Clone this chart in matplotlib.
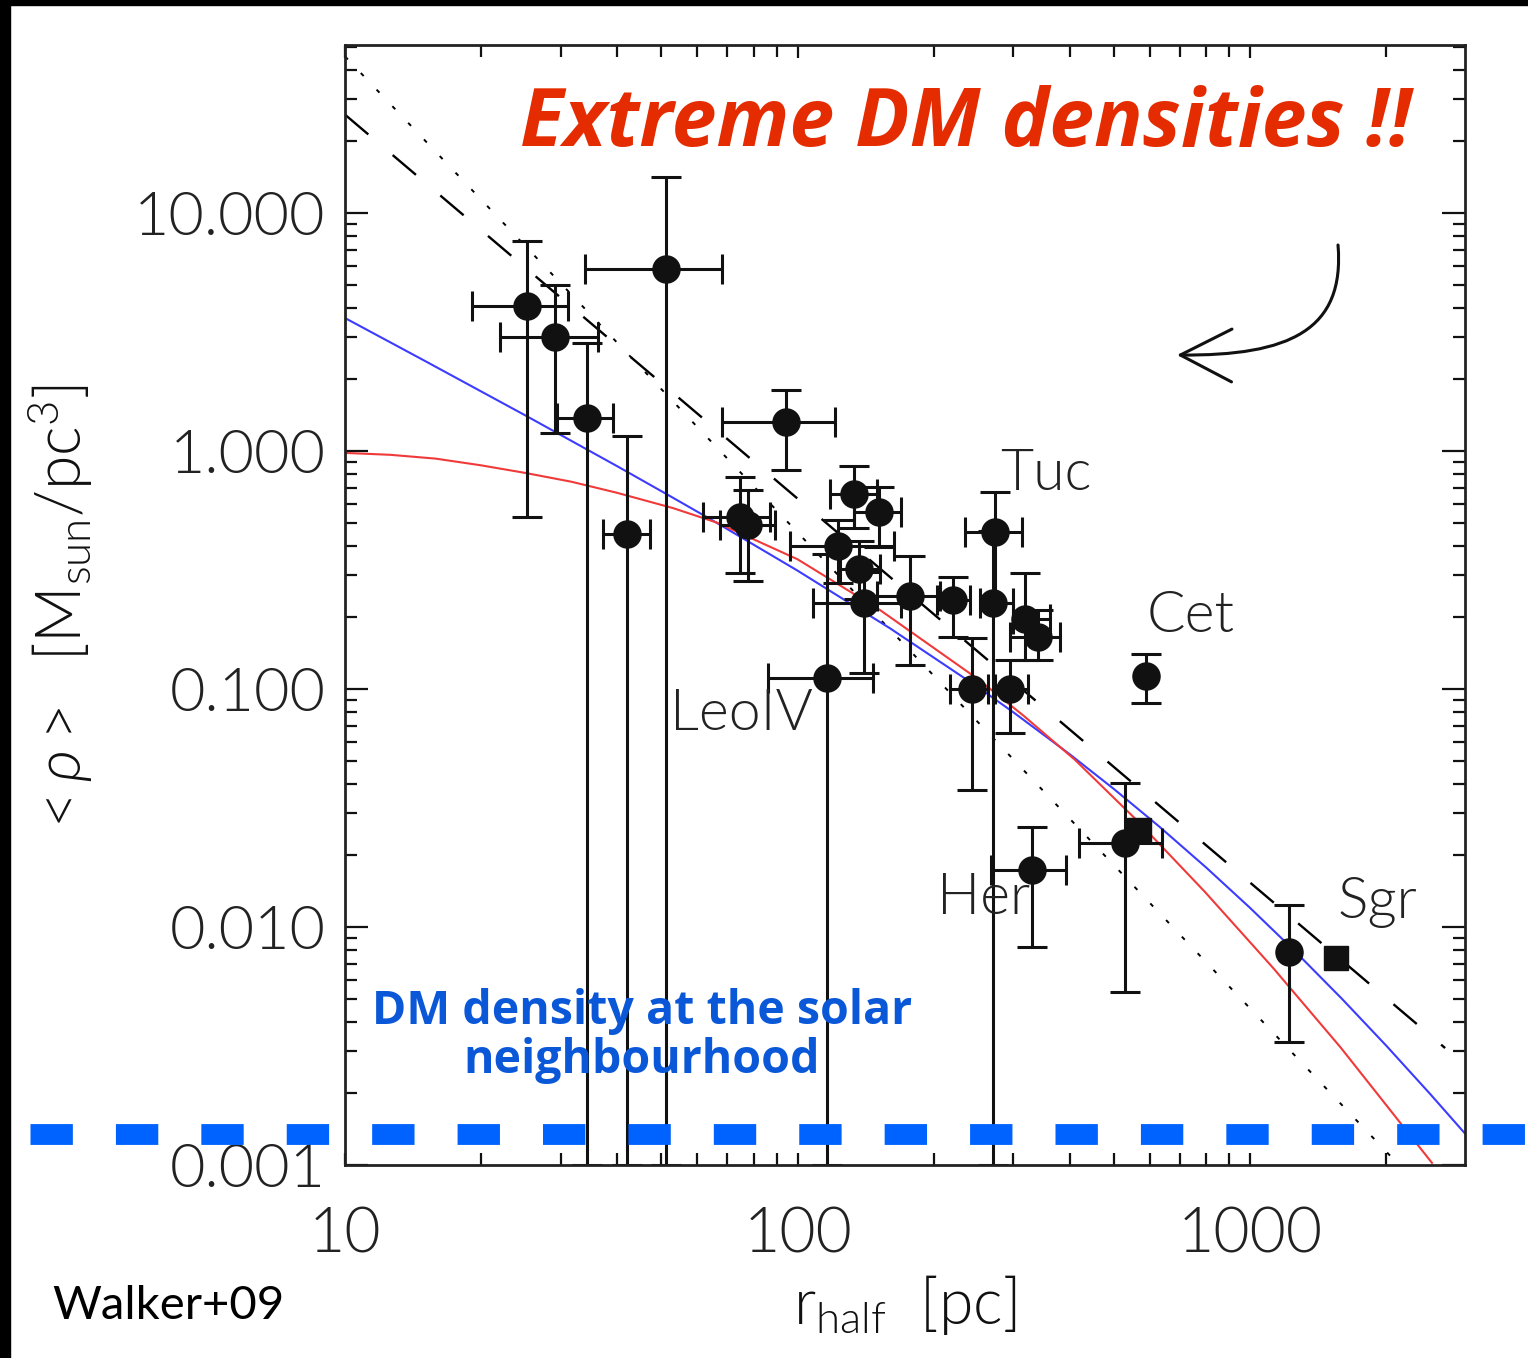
import numpy as np
import matplotlib
matplotlib.use("Agg")
import matplotlib.pyplot as plt
from matplotlib.patches import Rectangle, FancyArrowPatch
from matplotlib.path import Path
from matplotlib.lines import Line2D

W, H = 1528, 1358

# dwarf galaxies: half-light radius [pc] and mean density [Msun/pc^3], with error ranges
r_half = [25.2, 29.1, 34.3, 42.0, 51.2, 94.3, 74.6, 77.8, 133, 151, 123, 137, 140,
          116, 177, 221, 273, 270, 318, 340, 243, 295, 330, 529]
r_lo = [19.1, 22.0, 29.4, 37.2, 33.9, 68.1, 61.8, 67.4, 118, 133, 96.2, 124, 108,
        86.1, 150, 203, 234, 253, 299, 295, 217, 273, 268, 419]
r_hi = [31.1, 36.2, 39.1, 47.2, 68.1, 121, 86.9, 89.1, 150, 169, 163, 152, 169,
        147, 206, 240, 313, 299, 361, 380, 264, 323, 392, 640]
rho = [4.06, 3.01, 1.38, 0.448, 5.82, 1.32, 0.528, 0.489, 0.659, 0.554, 0.399, 0.319, 0.230,
       0.111, 0.246, 0.237, 0.457, 0.230, 0.197, 0.165, 0.100, 0.100, 0.0173, 0.0225]
rho_lo = [0.528, 1.19, 0.001, 0.001, 0.001, 0.832, 0.307, 0.284, 0.474, 0.395, 0.28, 0.24, 0.117,
          0.001, 0.126, 0.165, 0.23, 0.001, 0.132, 0.132, 0.0377, 0.0654, 0.00824, 0.00533]
rho_hi = [7.63, 4.98, 2.84, 1.16, 14.2, 1.80, 0.778, 0.686, 0.865, 0.706, 0.513, 0.42, 0.31,
          0.37, 0.362, 0.296, 0.673, 0.46, 0.307, 0.215, 0.164, 0.132, 0.0263, 0.0403]

# points with only vertical errors (Cet and the big one near Sgr)
r_single = [589, 1219]
rho_single = [0.1135, 0.00785]
rho_single_lo = [0.0873, 0.00329]
rho_single_hi = [0.140, 0.01236]

# square symbols
r_sq = [569, 1549]
rho_sq = [0.0256, 0.00741]

# model curves
blue_r = [10, 15, 25, 40, 51.5, 65, 100, 160, 250, 300, 400, 500, 630, 800, 1000, 1250,
          1600, 2000, 2500, 2985]
blue_rho = [3.62, 2.393, 1.413, 0.862, 0.657, 0.510, 0.3143, 0.1800, 0.1020, 0.07978, 0.05309,
            0.03802, 0.02642, 0.01777, 0.01203, 0.007988, 0.004967, 0.003171, 0.001988, 0.001356]
red_r = [10, 12.59, 15.85, 19.95, 25.0, 31.62, 39.81, 53.09, 66.37, 100, 152.1, 251.2, 316.2,
         410.2, 562.3, 794.3, 1122, 1585, 2523]
red_rho = [0.9817, 0.9638, 0.9290, 0.8710, 0.8091, 0.7430, 0.6683, 0.5754, 0.5000, 0.3508,
           0.2148, 0.1096, 0.0771, 0.0504, 0.02805, 0.01406, 0.006761, 0.003119, 0.001021]
dash_r = [10, 2698]
dash_rho = [25.9, 0.0031]
dot_r = [10, 2300]
dot_rho = [45.5, 0.00086]

gal_names = ["Tuc", "Cet", "LeoIV", "Her", "Sgr"]
gal_xy = [(1000, 475), (1147, 617), (670, 715), (937, 899), (1337, 902)]

plt.rcParams['mathtext.fontset'] = 'custom'
plt.rcParams['mathtext.rm'] = 'Lato:weight=300'
plt.rcParams['mathtext.it'] = 'Lato:italic:weight=300'
plt.rcParams['mathtext.fallback'] = 'stixsans'
plt.rcParams['lines.scale_dashes'] = False

LIGHT = 300


def fpos(px, py):
    return px / W, 1 - py / H


fig = plt.figure(figsize=(W / 100, H / 100), dpi=100)
fig.patch.set_facecolor('white')

# dark starry border strips
fig.patches.append(Rectangle((0, 0), 10 / W, 1, transform=fig.transFigure, color='black', zorder=0))
fig.patches.append(Rectangle((0, 1 - 5 / H), 1, 5 / H, transform=fig.transFigure, color='black', zorder=0))

ax = fig.add_axes([345 / W, 1 - 1165 / H, 1120 / W, 1120 / H])
ax.set_xscale('log')
ax.set_yscale('log')
ax.set_xlim(10, 2985)
ax.set_ylim(0.001, 50.8)

ax.plot(dot_r, dot_rho, color='black', lw=1.4, ls=(0, (3, 13.5)))
ax.plot(dash_r, dash_rho, color='black', lw=1.7, ls=(0, (22, 23)))
ax.plot(blue_r, blue_rho, color='#3c3cff', lw=1.5)
ax.plot(red_r, red_rho, color='#f03a3a', lw=1.5)

r_half = np.array(r_half)
rho = np.array(rho)
xerr = [r_half - np.array(r_lo), np.array(r_hi) - r_half]
yerr = [rho - np.array(rho_lo), np.array(rho_hi) - rho]
ax.errorbar(r_half, rho, xerr=xerr, yerr=yerr, fmt='o', color='#111111', ms=19.5,
            elinewidth=2.2, capsize=11, capthick=2.2)

rho_single = np.array(rho_single)
yerr_s = [rho_single - np.array(rho_single_lo), np.array(rho_single_hi) - rho_single]
ax.errorbar(r_single, rho_single, yerr=yerr_s, fmt='o', color='#111111', ms=19.5,
            elinewidth=2.2, capsize=11, capthick=2.2)
ax.plot(r_sq, rho_sq, 's', color='#111111', ms=17)

ax.set_yticks([0.001, 0.01, 0.1, 1, 10])
ax.set_yticklabels(['0.001', '0.010', '0.100', '1.000', '10.000'])
ax.set_xticks([10, 100, 1000])
ax.set_xticklabels(['10', '100', '1000'])
ax.tick_params(which='both', direction='in', top=True, right=True, color='#111111', width=1.6)
ax.tick_params(axis='y', which='major', length=16.5, pad=14)
ax.tick_params(axis='y', which='minor', length=8.6)
ax.tick_params(axis='x', which='major', length=9, pad=30)
ax.tick_params(axis='x', which='minor', length=8.6)
for lab in ax.get_yticklabels():
    lab.set_fontfamily('Lato')
    lab.set_fontweight(LIGHT)
    lab.set_fontsize(44)
    lab.set_color('#222222')
for lab in ax.get_xticklabels():
    lab.set_fontfamily('Lato')
    lab.set_fontweight(LIGHT)
    lab.set_fontsize(45)
    lab.set_color('#222222')
for sp in ax.spines.values():
    sp.set_linewidth(2.0)
    sp.set_color('#222222')

for name, (px, py) in zip(gal_names, gal_xy):
    fig.text(*fpos(px, py), name, ha='left', va='center', fontsize=41,
             family='Lato', weight=LIGHT, color='#222222')

fig.text(*fpos(966, 125), 'Extreme DM densities !!', ha='center', va='center',
         fontsize=58, family='Open Sans', weight='bold', style='italic', color='#e52b00')

fig.text(*fpos(642, 1036), 'DM density at the solar\nneighbourhood', ha='center', va='center',
         fontsize=33.5, family='Open Sans', weight='bold', color='#0a58d8', linespacing=1.08)

# solar neighbourhood density level, drawn across the whole slide
solar = Line2D([30 / W, 1528 / W], [1 - 1134 / H, 1 - 1134 / H], transform=fig.transFigure,
               color='#0062ff', lw=15, solid_capstyle='butt', dash_capstyle='butt',
               ls=(0, (30.5, 31)))
fig.lines.append(solar)

fig.text(*fpos(60, 610), r'$<\rho>\ \ [\mathrm{M_{sun}/pc^{3}}]$', rotation=90,
         ha='center', va='center', fontsize=45, color='#111111')
fig.text(*fpos(905, 1305), r'$\mathrm{r_{half}}\ \ [\mathrm{pc}]$', ha='center', va='center',
         fontsize=45, color='#111111')
fig.text(*fpos(52, 1306), 'Walker+09', ha='left', va='center', fontsize=34,
         family='Lato', color='black')

# curved arrow pointing at the high density points
verts = [fpos(1338, 245), fpos(1345, 330), fpos(1290, 356), fpos(1177, 355)]
arrow = FancyArrowPatch(path=Path(verts, [Path.MOVETO, Path.CURVE4, Path.CURVE4, Path.CURVE4]),
                        arrowstyle='->,head_length=37,head_width=19', mutation_scale=1,
                        transform=fig.transFigure, color='#111111', lw=2.2)
fig.patches.append(arrow)

fig.savefig('out.png', dpi=100)
